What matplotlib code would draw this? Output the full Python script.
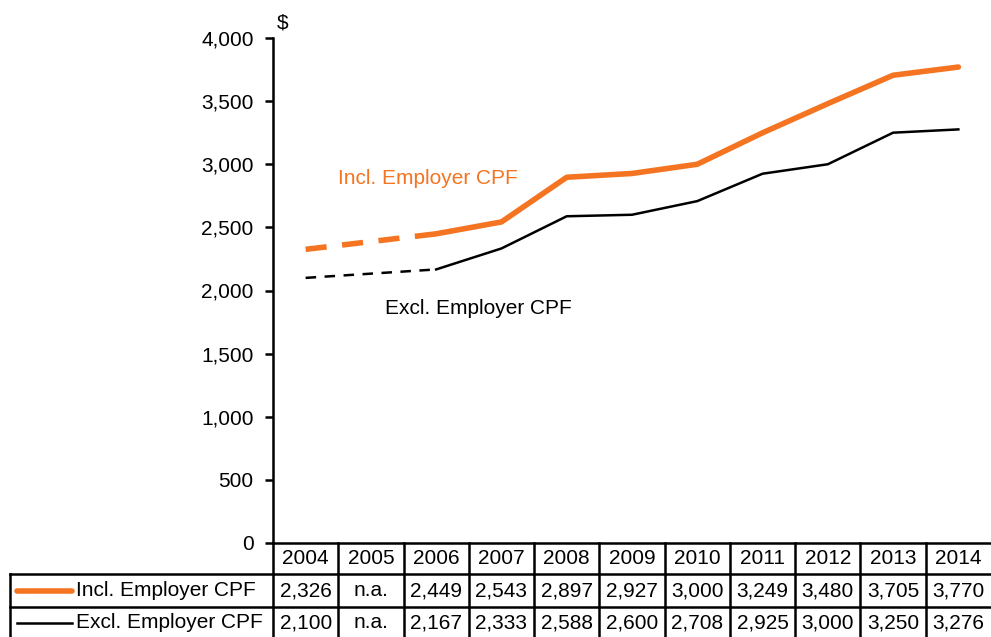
import matplotlib
matplotlib.use("Agg")
import matplotlib.pyplot as plt
import numpy as np

plt.rcParams['font.family'] = ['Liberation Sans', 'DejaVu Sans']

years = [2004, 2005, 2006, 2007, 2008, 2009, 2010, 2011, 2012, 2013, 2014]
incl = np.array([2326, np.nan, 2449, 2543, 2897, 2927, 3000, 3249, 3480, 3705, 3770])
excl = np.array([2100, np.nan, 2167, 2333, 2588, 2600, 2708, 2925, 3000, 3250, 3276])
series_names = ["Incl. Employer CPF", "Excl. Employer CPF"]
yticks = [0, 500, 1000, 1500, 2000, 2500, 3000, 3500, 4000]

orange = '#F47421'
fs = 15
W, H = 991, 637

fig = plt.figure(figsize=(W / 100, H / 100), dpi=100)
ax = fig.add_axes([273 / W, (H - 543) / H, 718 / W, (543 - 38) / H])

x = np.arange(len(years)) + 0.5
gap = [0, 2]  # 2005 is n.a., bridge with a dashed segment

# incl. employer CPF
ax.plot(x[gap], incl[gap], color=orange, lw=4, dashes=(3.8, 2.8), dash_capstyle='butt')
ax.plot(x[2:], incl[2:], color=orange, lw=4, solid_capstyle='round', solid_joinstyle='round')
# excl. employer CPF
ax.plot(x[gap], excl[gap], color='black', lw=1.8, dashes=(4.2, 3.4), dash_capstyle='butt')
ax.plot(x[2:], excl[2:], color='black', lw=1.8, solid_joinstyle='round')

ax.set_xlim(0, len(years))
ax.set_ylim(0, 4000)
ax.set_xticks([])
ax.set_yticks(yticks)
ax.set_yticklabels([f"{v:,}" for v in yticks])
ax.tick_params(axis='y', length=6, width=1.8, pad=8, labelsize=fs)
for s in ['top', 'right', 'bottom']:
    ax.spines[s].set_visible(False)
ax.spines['left'].set_linewidth(1.8)

ax.text(2.375, 2890, series_names[0], color=orange, fontsize=fs, ha='center', va='center')
ax.text(3.14, 1860, series_names[1], color='black', fontsize=fs, ha='center', va='center')
fig.text(277 / W, 1 - 23 / H, "$", fontsize=fs, ha='left', va='center')

# data table under the chart, columns lined up with the years
unit = 718 / len(years)
tab = fig.add_axes([10 / W, 0, 981 / W, 94 / H])
left = -263 / unit
tab.set_xlim(left, len(years))
tab.set_ylim(94, 0)
tab.axis('off')

lw = 1.8
rows = [0, 31, 64, 94]
tab.plot([0, len(years)], [0, 0], color='black', lw=lw, clip_on=False)
for r in rows[1:3]:
    tab.plot([left, len(years)], [r, r], color='black', lw=lw, clip_on=False)
for i in range(len(years)):
    tab.plot([i, i], [0, 94], color='black', lw=lw, clip_on=False)
tab.plot([left, left], [31, 94], color='black', lw=lw, clip_on=False)

def fmt(v):
    return "n.a." if np.isnan(v) else f"{v:,.0f}"

for i, yr in enumerate(years):
    tab.text(x[i], 16, str(yr), fontsize=fs, ha='center', va='center')
    tab.text(x[i], 48, fmt(incl[i]), fontsize=fs, ha='center', va='center')
    tab.text(x[i], 80, fmt(excl[i]), fontsize=fs, ha='center', va='center')

lx0, lx1, tx = (17 - 273) / unit, (72 - 273) / unit, (76 - 273) / unit
tab.plot([lx0, lx1], [48, 48], color=orange, lw=4, solid_capstyle='round')
tab.plot([lx0, lx1], [80, 80], color='black', lw=1.8)
tab.text(tx, 48, series_names[0], fontsize=fs, ha='left', va='center')
tab.text(tx, 80, series_names[1], fontsize=fs, ha='left', va='center')

fig.savefig("out.png", dpi=100)
